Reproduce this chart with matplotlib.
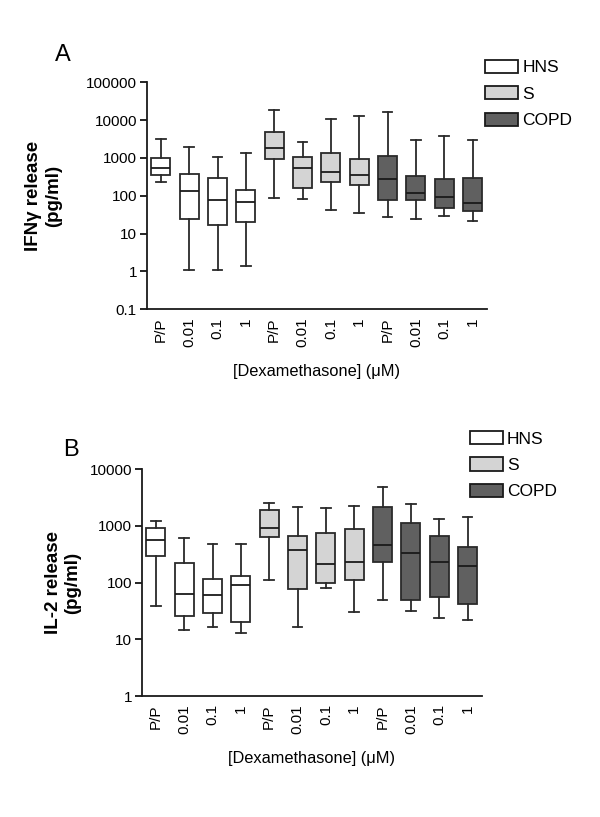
import numpy as np
import matplotlib
matplotlib.use("Agg")
import matplotlib.pyplot as plt
from matplotlib.patches import Patch

plt.rcParams['font.family'] = ['Liberation Sans', 'DejaVu Sans']

groups = ['HNS', 'S', 'COPD']
conditions = ['P/P', '0.01', '0.1', '1']
colors = ['#ffffff', '#d4d4d4', '#606060']

# panel A: IFN-gamma (pg/ml) -- whisker low, Q1, median, Q3, whisker high
ifn_low = [236, 1.1, 1.07, 1.43, 86, 82, 43, 36, 28, 24.4, 30, 21]
ifn_q1 = [355, 25, 17.3, 20, 960, 164, 232, 190, 79, 79, 47.7, 39]
ifn_med = [535, 131, 76, 69, 1875, 555, 435, 356, 284, 116, 91, 63]
ifn_q3 = [1000, 378, 302, 143, 4960, 1060, 1356, 941, 1150, 327, 279, 302]
ifn_high = [3100, 1900, 1060, 1330, 19000, 2700, 10960, 12900, 16100, 3050, 3810, 2930]

# panel B: IL-2 (pg/ml)
il2_low = [39, 14.4, 16.7, 12.9, 111, 16.3, 79, 30, 48.8, 32, 23.8, 21.9]
il2_q1 = [300, 25.8, 29.6, 20.2, 640, 78, 97, 110, 228, 49.4, 56.6, 42]
il2_med = [559, 64, 60.6, 92, 935, 372, 213, 228, 469, 330, 235, 194]
il2_q3 = [910, 219, 118, 129, 1916, 675, 752, 885, 2160, 1130, 657, 420]
il2_high = [1225, 606, 481, 481, 2580, 2160, 2080, 2250, 4880, 2480, 1346, 1462]


def draw_panel(ax, low, q1, med, q3, high, ylim, ylabel, ylabel_x,
               letter, letter_xy, legend_xy):
    stats = []
    for i in range(len(med)):
        stats.append(dict(whislo=low[i], q1=q1[i], med=med[i], q3=q3[i],
                          whishi=high[i], fliers=[]))
    pos = np.arange(1, len(stats) + 1)
    bp = ax.bxp(stats, positions=pos, widths=0.67, patch_artist=True,
                showfliers=False,
                boxprops=dict(edgecolor='#2a2a2a', linewidth=1.3),
                medianprops=dict(color='#1a1a1a', linewidth=1.3),
                whiskerprops=dict(color='#2a2a2a', linewidth=1.3),
                capprops=dict(color='#2a2a2a', linewidth=1.3))
    for i, b in enumerate(bp['boxes']):
        b.set_facecolor(colors[i // 4])
    ax.set_yscale('log')
    ax.set_ylim(*ylim)
    ax.set_xlim(0.5, 12.5)
    ax.set_xticks(pos)
    ax.set_xticklabels(conditions * 3, rotation=90, fontsize=11)
    ax.tick_params(axis='x', length=0, pad=6)
    ax.tick_params(axis='y', which='major', length=5, width=1.2, labelsize=11, pad=2)
    ax.tick_params(axis='y', which='minor', length=0)
    ax.yaxis.set_major_formatter(matplotlib.ticker.FuncFormatter(
        lambda v, p: ('%g' % v) if v < 1 else '%d' % round(v)))
    for s in ['top', 'right']:
        ax.spines[s].set_visible(False)
    for s in ['left', 'bottom']:
        ax.spines[s].set_linewidth(1.3)
        ax.spines[s].set_color('#1a1a1a')
    ax.set_ylabel(ylabel, fontsize=13.5, fontweight='bold')
    ax.yaxis.set_label_coords(ylabel_x, 0.5)
    ax.set_xlabel('[Dexamethasone] (\u03bcM)', fontsize=11.8, labelpad=12)
    ax.text(letter_xy[0], letter_xy[1], letter, transform=ax.transAxes,
            fontsize=17, ha='center', va='center')
    handles = [Patch(facecolor=c, edgecolor='#1a1a1a', linewidth=1.3, label=g)
               for g, c in zip(groups, colors)]
    ax.legend(handles=handles, loc='upper left', bbox_to_anchor=legend_xy,
              frameon=False, fontsize=12.5, handlelength=1.9, handleheight=0.8,
              handletextpad=0.25, labelspacing=0.62, borderaxespad=0)


fig = plt.figure(figsize=(6, 8.17), dpi=100)
axA = fig.add_axes([0.2445, 0.6214, 0.5667, 0.2779])
axB = fig.add_axes([0.2362, 0.1481, 0.5667, 0.2775])

draw_panel(axA, ifn_low, ifn_q1, ifn_med, ifn_q3, ifn_high, (0.1, 100000),
           'IFN\u03b3 release\n(pg/ml)', -0.25, 'A', (-0.246, 1.12),
           (0.975, 1.13))
draw_panel(axB, il2_low, il2_q1, il2_med, il2_q3, il2_high, (1, 10000),
           'IL-2 release\n(pg/ml)', -0.178, 'B', (-0.208, 1.085),
           (0.944, 1.20))

fig.savefig('out.png', dpi=100)
